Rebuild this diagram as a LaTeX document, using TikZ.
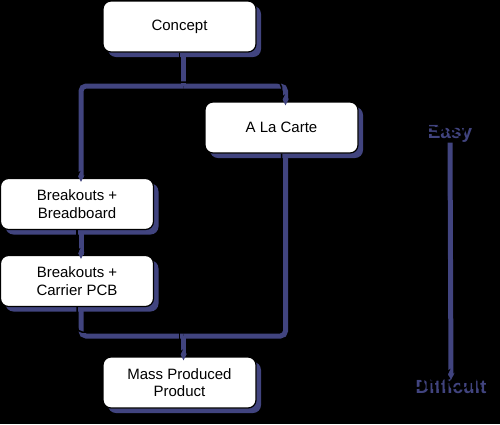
\documentclass[tikz,border=0pt]{standalone}
\usepackage{fontspec}
\setmainfont{Liberation Sans}
\usetikzlibrary{arrows.meta,shadows}
\definecolor{shblue}{HTML}{41447F}
\tikzset{
  box/.style={draw=black, line width=1.2, fill=white, rounded corners=8,
    minimum width=153, minimum height=51, align=center, inner sep=2,
    font=\fontsize{15}{17.7}\selectfont,
    drop shadow={shadow xshift=5pt, shadow yshift=-5pt, fill=shblue, opacity=1}},
  shline/.style={draw=shblue, line width=5, rounded corners=5,
    transform canvas={shift={(4pt,-4pt)}}},
  mainline/.style={draw=black, line width=1.5, rounded corners=5},
  tip/.style={-{Stealth[length=7,width=7]}},
  bigtext/.style={font=\fontsize{19}{22}\selectfont\bfseries, inner sep=0},
}
\newcommand\cdraw[2][]{\draw[shline,#1] #2; \draw[mainline,#1] #2;}
\begin{document}
\begin{tikzpicture}[x=1pt,y=-1pt]
\fill[black] (0,0) rectangle (500,424);
\useasboundingbox (0,0) rectangle (500,424);

\node[box] (concept) at (179.5,26.5) {Concept};
\node[box] (alc) at (281.5,127.5) {A La Carte};
\node[box] (bb) at (77,204) {Breakouts +\\Breadboard};
\node[box] (bc) at (77,281) {Breakouts +\\Carrier PCB};
\node[box] (mass) at (179.5,382.5) {Mass Produced\\Product};

\coordinate (j1) at (179.5,82);
\coordinate (j2) at (179.5,332);

\cdraw{(concept.south) -- (j1)}
\cdraw[tip]{(j1) -| (bb.north)}
\cdraw[tip]{(j1) -| (alc.north)}
\cdraw[tip]{(bb.south) -- (bc.north)}
\cdraw{(bc.south) |- (j2)}
\cdraw{(alc.south) |- (j2)}
\cdraw[tip]{(j2) -- (mass.north)}

\node[bigtext, text=shblue] (easysh) at (450,134) {Easy};
\node[bigtext, text=black] (easy) at (446,130) {Easy};
\node[bigtext, text=shblue] (diffsh) at (451,387) {Difficult};
\node[bigtext, text=black] (diff) at (447,383) {Difficult};
\cdraw[tip]{(easy.south) -- (diff.north)}
\end{tikzpicture}
\end{document}
